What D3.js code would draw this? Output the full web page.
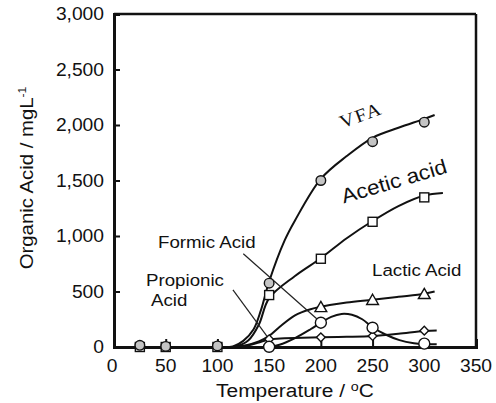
<!DOCTYPE html>
<html><head><meta charset="utf-8">
<script src="https://cdn.jsdelivr.net/npm/d3@7"></script>
<style>body{margin:0;background:#fff}svg{display:block}text{font-family:Arial,"Liberation Sans",sans-serif;fill:#111}</style>
</head><body><svg id="c" width="496" height="403"></svg>
<script>
// ---- data ----
const temps = [25, 50, 100, 150, 200, 250, 300];
const vfa = [15, 5, 10, 575, 1500, 1850, 2025];
const acetic = [0, 0, 0, 468, 795, 1128, 1348];
const lacticT = [200, 250, 300];
const lactic = [358, 423, 476];
const formicT = [150, 200, 250, 300];
const formic = [2, 219, 174, 30];
const propionicT = [150, 200, 250, 300];
const propionic = [70, 87, 99, 147];

// fitted curves
const vfaFitT = [100, 115, 125, 135, 142, 150, 165, 175, 200, 225, 250, 275, 300, 310];
const vfaFit = [0, 5, 55, 160, 330, 590, 960, 1140, 1515, 1720, 1885, 1975, 2055, 2090];
const aceticFitT = [100, 118, 130, 140, 150, 175, 200, 225, 250, 275, 300, 318];
const aceticFit = [0, 5, 60, 200, 440, 640, 800, 980, 1135, 1270, 1365, 1388];
const lacticFitT = [110, 125, 140, 150, 160, 175, 190, 200, 225, 250, 275, 300, 310];
const lacticFit = [0, 10, 50, 100, 180, 285, 340, 362, 400, 425, 452, 480, 500];
const formicFitT = [140, 150, 160, 175, 190, 200, 210, 220, 230, 240, 250, 262, 276, 290, 300, 312];
const formicFit = [0, 2, 20, 80, 160, 219, 272, 298, 290, 250, 178, 115, 62, 34, 26, 24];
const propionicFitT = [115, 130, 140, 150, 165, 200, 225, 250, 275, 300, 312];
const propionicFit = [0, 15, 40, 68, 78, 87, 92, 100, 120, 145, 148];

const xTicks = [0, 50, 100, 150, 200, 250, 300, 350];
const yTicks = [0, 500, 1000, 1500, 2000, 2500, 3000];

// ---- chart ----
const svg = d3.select("#c");
const x = d3.scaleLinear().domain([0, 350]).range([114, 476]);
const y = d3.scaleLinear().domain([0, 3000]).range([347, 14]);
const SX = 1.1; // horizontal stretch of the original lettering

function label(px, py, rot, size, anchor) {
  const g = svg.append("g").attr("transform", `translate(${px},${py}) rotate(${rot}) scale(${SX},1)`);
  return g.append("text").attr("text-anchor", anchor).attr("font-size", size);
}

// frame top/right
svg.append("line").attr("x1", x(0)).attr("x2", x(350)).attr("y1", y(3000)).attr("y2", y(3000)).attr("stroke", "#111").attr("stroke-width", 2.5);
svg.append("line").attr("x1", x(350)).attr("x2", x(350)).attr("y1", y(3000)).attr("y2", y(0)).attr("stroke", "#111").attr("stroke-width", 2.5);

// axes
const yAxis = svg.append("g").attr("transform", `translate(${x(0)},0)`)
  .call(d3.axisRight(y).tickValues(yTicks).tickSize(6).tickFormat(""));
yAxis.select(".domain").attr("stroke", "#111").attr("stroke-width", 3);
yAxis.selectAll(".tick line").attr("stroke", "#111").attr("stroke-width", 2);
const xAxis = svg.append("g").attr("transform", `translate(0,${y(0)})`)
  .call(d3.axisTop(x).tickValues(xTicks).tickSize(8).tickFormat(""));
xAxis.select(".domain").attr("stroke", "#111").attr("stroke-width", 3);
xAxis.selectAll(".tick line").attr("stroke", "#111").attr("stroke-width", 2);

// tick labels
const fmt = d3.format(",");
yTicks.forEach(d => label(104, y(d), 0, 17.5, "end").attr("dy", "0.36em").text(fmt(d)));
xTicks.forEach(d => label(x(d) - (d === 0 ? 2 : 0), 371.5, 0, 17.5, "middle").text(d));

// axis titles
const yt = label(33, 178, -90, 18.5, "middle");
yt.append("tspan").text("Organic Acid / mgL");
yt.append("tspan").attr("font-size", 11).attr("dy", -7).text("-1");
const xt = label(295, 397, 0, 19, "middle");
xt.append("tspan").text("Temperature / ");
xt.append("tspan").attr("font-size", 13).attr("dy", -6).text("o");
xt.append("tspan").attr("dy", 6).text("C");

// curves
const line = d3.line().x(d => x(d[0])).y(d => y(d[1])).curve(d3.curveCatmullRom.alpha(0.5));
const fits = [[vfaFitT, vfaFit], [aceticFitT, aceticFit], [lacticFitT, lacticFit], [formicFitT, formicFit], [propionicFitT, propionicFit]];
fits.forEach(([t, v]) => {
  svg.append("path").datum(d3.zip(t, v)).attr("d", line)
    .attr("fill", "none").attr("stroke", "#111").attr("stroke-width", 2);
});

// leader lines
svg.append("line").attr("x1", x(125)).attr("y1", y(840)).attr("x2", x(196)).attr("y2", y(255))
  .attr("stroke", "#222").attr("stroke-width", 1.2);
svg.append("line").attr("x1", x(115)).attr("y1", y(515)).attr("x2", x(148)).attr("y2", y(95))
  .attr("stroke", "#222").attr("stroke-width", 1.2);

// markers
const mk = {stroke: "#111", sw: 1.4};
svg.append("g").selectAll("rect").data(d3.zip(temps, acetic)).join("rect")
  .attr("x", d => x(d[0]) - 4.5).attr("y", d => y(d[1]) - 4.5).attr("width", 9).attr("height", 9)
  .attr("fill", "#fff").attr("stroke", mk.stroke).attr("stroke-width", mk.sw);
svg.append("g").selectAll("circle").data(d3.zip(temps, vfa)).join("circle")
  .attr("cx", d => x(d[0])).attr("cy", d => y(d[1])).attr("r", 4.8)
  .attr("fill", "#c4c4c4").attr("stroke", mk.stroke).attr("stroke-width", mk.sw);
const tri = d3.symbol().type(d3.symbolTriangle).size(60);
svg.append("g").selectAll("path").data(d3.zip(lacticT, lactic)).join("path")
  .attr("transform", d => `translate(${x(d[0])},${y(d[1]) + 1})`).attr("d", tri)
  .attr("fill", "#fff").attr("stroke", mk.stroke).attr("stroke-width", mk.sw);
svg.append("g").selectAll("path").data(d3.zip(propionicT, propionic)).join("path")
  .attr("transform", d => `translate(${x(d[0])},${y(d[1])}) rotate(45)`)
  .attr("d", d3.symbol().type(d3.symbolSquare).size(38))
  .attr("fill", "#fff").attr("stroke", mk.stroke).attr("stroke-width", mk.sw);
svg.append("g").selectAll("circle").data(d3.zip(formicT, formic)).join("circle")
  .attr("cx", d => x(d[0])).attr("cy", d => y(d[1])).attr("r", 5.5)
  .attr("fill", "#fff").attr("stroke", mk.stroke).attr("stroke-width", mk.sw);

// series labels
label(363, 121, -20, 18.5, "middle").attr("letter-spacing", 1.5)
  .style("font-family", "'Liberation Serif','Times New Roman',serif").text("VFA");
label(396, 188, -16.5, 20.5, "middle").text("Acetic acid");
label(372, 276, 0, 17, "start").text("Lactic Acid");
label(158, 248, 0, 17, "start").text("Formic Acid");
label(146, 286, 0, 17, "start").text("Propionic");
label(151, 306, 0, 17, "start").text("Acid");
</script></body></html>
